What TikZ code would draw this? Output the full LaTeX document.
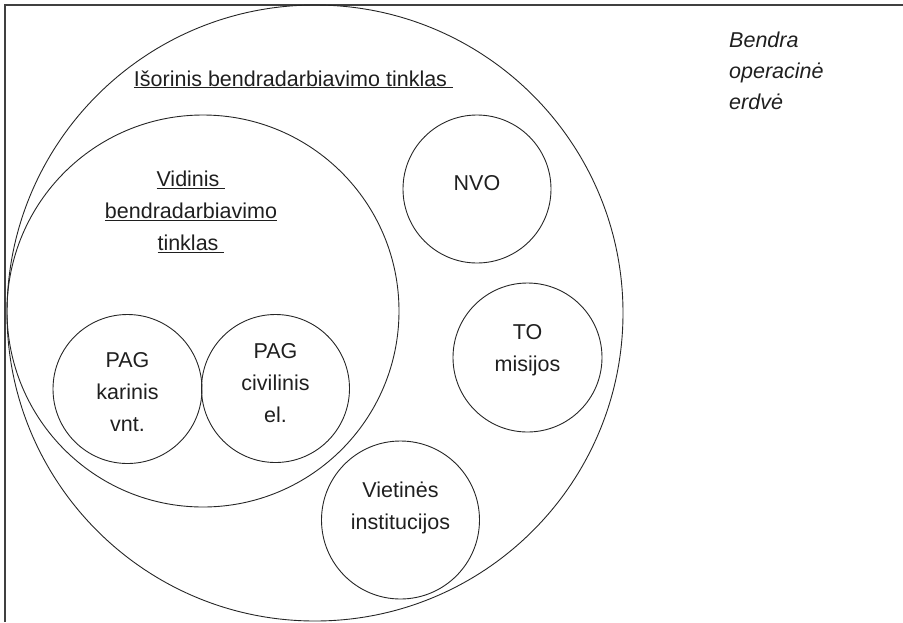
\documentclass[tikz,border=0pt]{standalone}
\usepackage{fontspec}
\setmainfont{Liberation Sans}

\begin{document}
\begin{tikzpicture}[x=1pt, y=-1pt,
    every node/.style={text=black!88, inner sep=0pt, align=center,
      font=\fontsize{21.5}{32}\selectfont},
    ring/.style={draw=black!85, circle, line width=0.9pt},
    ]
  \useasboundingbox (0,0) rectangle (903,622);
  % frame of the operational space
  \draw[black!75, line width=1.5pt] (5,622) -- (5,5) -- (903,5);

  \node[ring, minimum size=616] (isorinis) at (315,313) {};
  \node[ring, minimum size=392] (vidinis) at (203,311) {};
  \node[ring, minimum size=149] (karinis) at (127.5,389) {};
  \node[ring, minimum size=148] (civilinis) at (275.5,388.5) {};
  \node[ring, minimum size=148] (nvo) at (477,189) {};
  \node[ring, minimum size=149] (to) at (527.5,357.5) {};
  \node[ring, minimum size=158] (vietines) at (400.5,520) {};

  % labels
  \node[anchor=base] (isorinis-txt) at (293.5,86)
      {\underline{Išorinis bendradarbiavimo tinklas~}};
  \node[xshift=-12pt, yshift=99pt] (vidinis-txt) at (vidinis.center)
      {\underline{Vidinis~}\\ \underline{bendradarbiavimo}\\ \underline{tinklas~}};
  \node[yshift=-3pt] (karinis-txt) at (karinis.center) {PAG\\ karinis\\ vnt.};
  \node[yshift=5pt] (civilinis-txt) at (civilinis.center) {PAG\\ civilinis\\ el.};
  \node[yshift=6pt] (nvo-txt) at (nvo.center) {NVO};
  \node[yshift=7pt] (to-txt) at (to.center) {TO\\ misijos};
  \node[yshift=12pt] (vietines-txt) at (vietines.center) {Vietinės\\ institucijos};
  \node[anchor=north west, align=left, font=\fontsize{21.5}{31}\selectfont\itshape]
      (erdve) at (729,32) {Bendra\\ operacinė\\ erdvė};
\end{tikzpicture}
\end{document}
